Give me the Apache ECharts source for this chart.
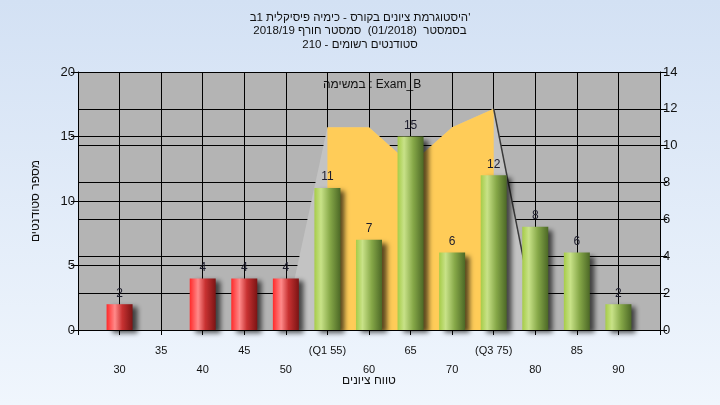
<!DOCTYPE html>
<html>
<head>
<meta charset="utf-8">
<script src="https://cdn.jsdelivr.net/npm/echarts@6/dist/echarts.min.js"></script>
<style>
html,body{margin:0;padding:0;}
#c{width:720px;height:405px;}
</style>
</head>
<body>
<div id="c"></div>
<script>
// ---- data ----
const titleLines = [
  "היסטוגרמת ציונים בקורס - כימיה פיסיקלית 1ב'",
  "בסמסטר  (01/2018)  סמסטר חורף 2018/19",
  "סטודנטים רשומים - 210"
];
const legendText = "במשימה : Exam_B";
const yName = "מספר סטודנטים";
const xName = "טווח ציונים";
const categories = [30, 35, 40, 45, 50, 55, 60, 65, 70, 75, 80, 85, 90];
const counts     = [2, 0, 4, 4, 4, 11, 7, 15, 6, 12, 8, 6, 2];
const tickLabels = ["30", "35", "40", "45", "50", "(Q1 55)", "60", "65", "70", "(Q3 75)", "80", "85", "90"];
const outerX = [50, 55, 60, 65, 70, 75, 80];
const outerY = [0.6, 11, 11, 9, 11, 12, 0.6];
const iqrX = [55, 55, 60, 65, 70, 75, 75];
const iqrY = [0, 11, 11, 9, 11, 12, 0];
const edgeX = [75, 80];
const edgeY = [12, 0.6];
const q1 = 55;

// ---- chart ----
const FONT = "Liberation Sans";
const chart = echarts.init(document.getElementById('c'));
const redGrad = new echarts.graphic.LinearGradient(0, 0, 1, 0, [
  {offset: 0, color: '#ff2a2a'}, {offset: 0.32, color: '#ff8a8a'},
  {offset: 0.6, color: '#c83232'}, {offset: 1, color: '#7c1414'}]);
const greenGrad = new echarts.graphic.LinearGradient(0, 0, 1, 0, [
  {offset: 0, color: '#a6cc48'}, {offset: 0.25, color: '#c8e288'},
  {offset: 0.6, color: '#86a848'}, {offset: 1, color: '#4c6826'}]);

const barData = [];
categories.forEach((c, i) => {
  if (counts[i] > 0) {
    barData.push({value: [c, counts[i]], itemStyle: {color: c < q1 ? redGrad : greenGrad}});
  }
});
const labelMap = {};
categories.forEach((c, i) => labelMap[c] = tickLabels[i]);

const axisLineStyle = {color: '#000', width: 1};
chart.setOption({
  animation: false,
  backgroundColor: new echarts.graphic.LinearGradient(0, 0, 0, 1, [
    {offset: 0, color: '#d3e1f4'}, {offset: 1, color: '#f0f6fd'}]),
  textStyle: {fontFamily: FONT},
  title: {
    text: titleLines.join('\n'),
    left: 'center', top: 6,
    textStyle: {fontFamily: FONT, fontSize: 11.5, fontWeight: 'normal', color: '#111', lineHeight: 13.5}
  },
  graphic: [{
    type: 'text', left: 323, top: 79,
    style: {text: legendText, font: '12px "Liberation Sans"', fill: '#111'}
  }],
  grid: {left: 78, right: 60, top: 72, bottom: 75, show: true, backgroundColor: '#b4b4b4', borderWidth: 0},
  xAxis: {
    type: 'value', min: 25, max: 95, interval: 5,
    name: xName, nameLocation: 'middle', nameGap: 45, nameMoveOverlap: false,
    nameTextStyle: {fontFamily: FONT, fontSize: 12, color: '#111'},
    axisLine: {lineStyle: axisLineStyle},
    axisTick: {show: true, length: 5, lineStyle: axisLineStyle},
    splitLine: {show: true, lineStyle: axisLineStyle},
    axisLabel: {
      margin: 11, fontSize: 11, color: '#111', lineHeight: 19, verticalAlign: 'top',
      formatter: v => {
        const t = labelMap[v];
        if (t === undefined) return '';
        return (v % 10 === 0) ? '\n' + t : t;
      }
    }
  },
  yAxis: [{
    type: 'value', min: 0, max: 20, interval: 5, position: 'left',
    name: yName, nameLocation: 'middle', nameGap: 36, nameRotate: 90, nameMoveOverlap: false,
    nameTextStyle: {fontFamily: FONT, fontSize: 12, color: '#111'},
    axisLine: {show: true, lineStyle: axisLineStyle},
    axisTick: {show: true, length: 7, lineStyle: axisLineStyle},
    axisLabel: {fontSize: 13, color: '#111', margin: 3},
    splitLine: {show: true, lineStyle: axisLineStyle}
  }, {
    type: 'value', min: 0, max: 14, interval: 2, position: 'right',
    axisLine: {show: true, lineStyle: axisLineStyle},
    axisTick: {show: true, length: 7, lineStyle: axisLineStyle},
    axisLabel: {fontSize: 13, color: '#111', margin: 3},
    splitLine: {show: true, lineStyle: axisLineStyle}
  }],
  series: [{
    type: 'line', yAxisIndex: 1, z: 1,
    data: outerX.map((x, i) => [x, outerY[i]]),
    symbol: 'none', lineStyle: {width: 0},
    areaStyle: {color: '#c3c3c3', opacity: 1}
  }, {
    type: 'line', yAxisIndex: 1, z: 2,
    data: iqrX.map((x, i) => [x, iqrY[i]]),
    symbol: 'none', lineStyle: {width: 0},
    areaStyle: {color: '#ffcc58', opacity: 1}
  }, {
    type: 'line', yAxisIndex: 1, z: 2,
    data: edgeX.map((x, i) => [x, edgeY[i]]),
    symbol: 'none', lineStyle: {width: 1.5, color: '#3a3a3a'}
  }, {
    type: 'bar', yAxisIndex: 0, z: 5,
    barWidth: 26,
    data: barData,
    itemStyle: {shadowColor: 'rgba(0,0,0,0.65)', shadowBlur: 5, shadowOffsetX: 5, shadowOffsetY: 3},
    label: {show: true, position: 'top', distance: 5, fontSize: 12, color: '#1c1c2c', fontFamily: FONT}
  }]
});
</script>
</body>
</html>
